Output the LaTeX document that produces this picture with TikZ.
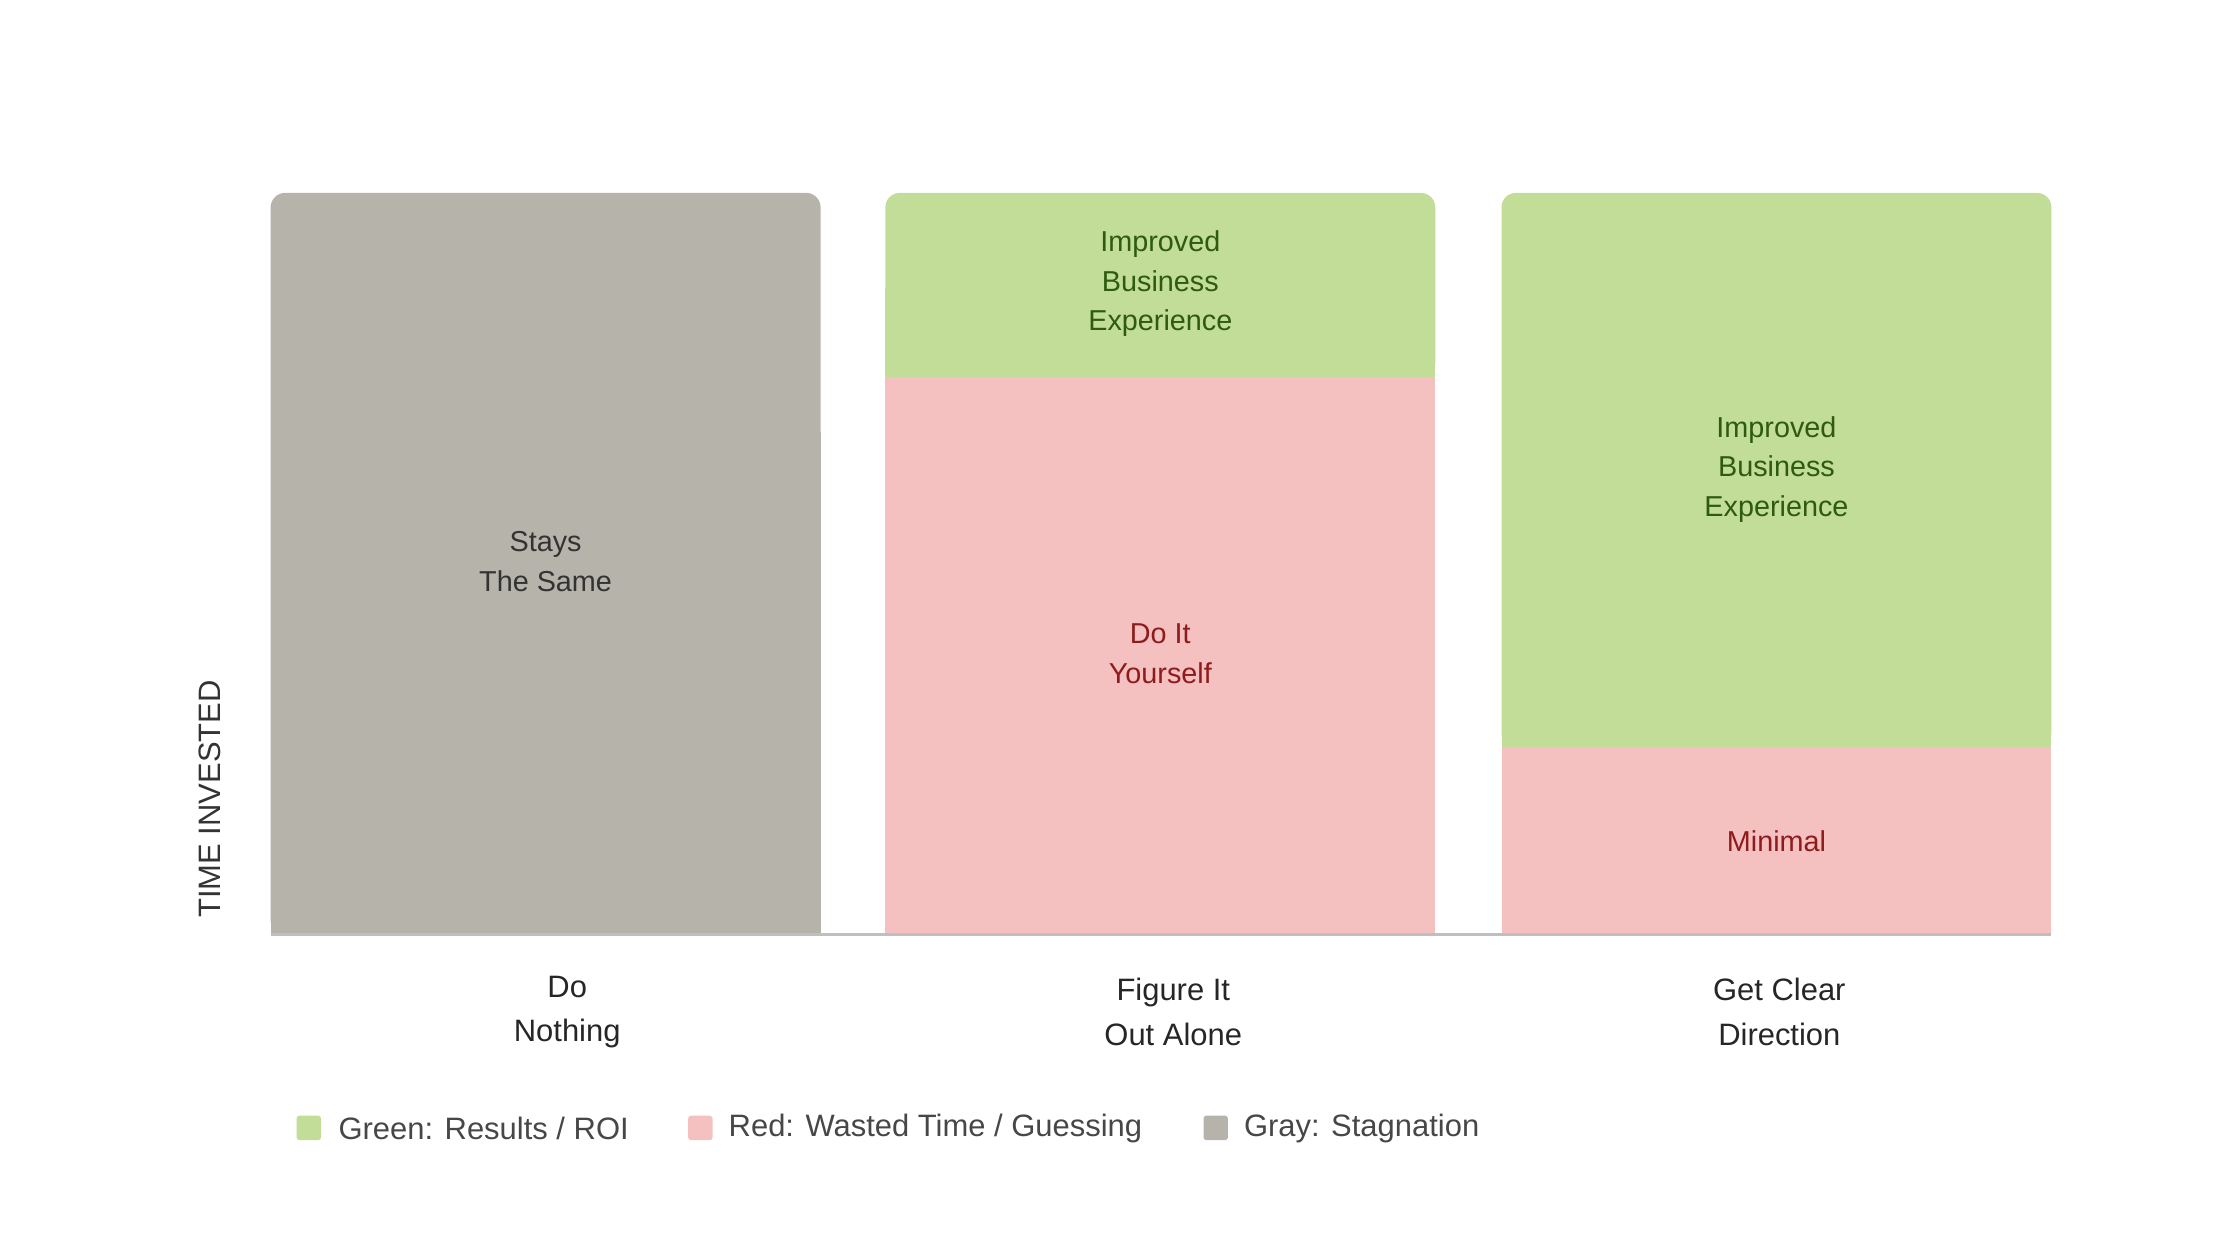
\documentclass[tikz,border=0pt]{standalone}
\usepackage{fontspec}
\setmainfont{Liberation Sans}
\definecolor{cgreen}{HTML}{C2DD97}
\definecolor{cpink}{HTML}{F5C0C0}
\definecolor{cgray}{HTML}{B5B3AA}
\definecolor{tgreen}{HTML}{2E5A12}
\definecolor{tred}{HTML}{8E1C1C}
\definecolor{tdark}{HTML}{333333}
\begin{document}
\begin{tikzpicture}[x=1pt,y=-1pt,
  bartext/.style={align=center,font=\fontsize{20}{27.5}\selectfont},
  cat/.style={align=center,text=black!85,font=\fontsize{21.5}{31}\selectfont},
  leg/.style={anchor=west,text=tdark!90,font=\fontsize{21.5}{26}\selectfont,inner sep=0pt}]
\useasboundingbox (0,0) rectangle (1556,875);
% bar 1
\fill[cgray,rounded corners=10] (188,134) rectangle (570,649);
\fill[cgray] (188,300) rectangle (570,649);
% bar 2
\fill[cgreen,rounded corners=10] (615,134) rectangle (997,262);
\fill[cgreen] (615,200) rectangle (997,262);
\fill[cpink] (615,262) rectangle (997,649);
% bar 3
\fill[cgreen,rounded corners=10] (1043,134) rectangle (1425,519);
\fill[cgreen] (1043,300) rectangle (1425,519);
\fill[cpink] (1043,519) rectangle (1425,649);
% axis
\draw[line width=2.5pt,black!25] (188,649) -- (1425,649);
% bar texts
\node[bartext,text=tdark] (t1) at (379,390) {Stays\\The Same};
\node[bartext,text=tgreen] (t2) at (806,197) {Improved\\Business\\Experience};
\node[bartext,text=tred] (t3) at (806,454) {Do It\\Yourself};
\node[bartext,text=tgreen] (t4) at (1234,326) {Improved\\Business\\Experience};
\node[bartext,text=tred] (t5) at (1234,584) {Minimal};
% y label
\node[rotate=90,text=tdark,font=\fontsize{21.5}{26}\selectfont] (yl) at (146,555) {TIME INVESTED};
% categories
\node[cat] (c1) at (394,703) {Do\\Nothing};
\node[cat] (c2) at (815,703) {Figure It\\Out Alone};
\node[cat] (c3) at (1236,703) {Get Clear\\Direction};
% legend
\fill[cgreen,rounded corners=2] (206,775) rectangle (223,792);
\node[leg] (l1) at (235,784) {Green: Results / ROI};
\fill[cpink,rounded corners=2] (478,775) rectangle (495,792);
\node[leg] (l2) at (506,784) {Red: Wasted Time / Guessing};
\fill[cgray,rounded corners=2] (836,775) rectangle (853,792);
\node[leg] (l3) at (864,784) {Gray: Stagnation};
\end{tikzpicture}
\end{document}
